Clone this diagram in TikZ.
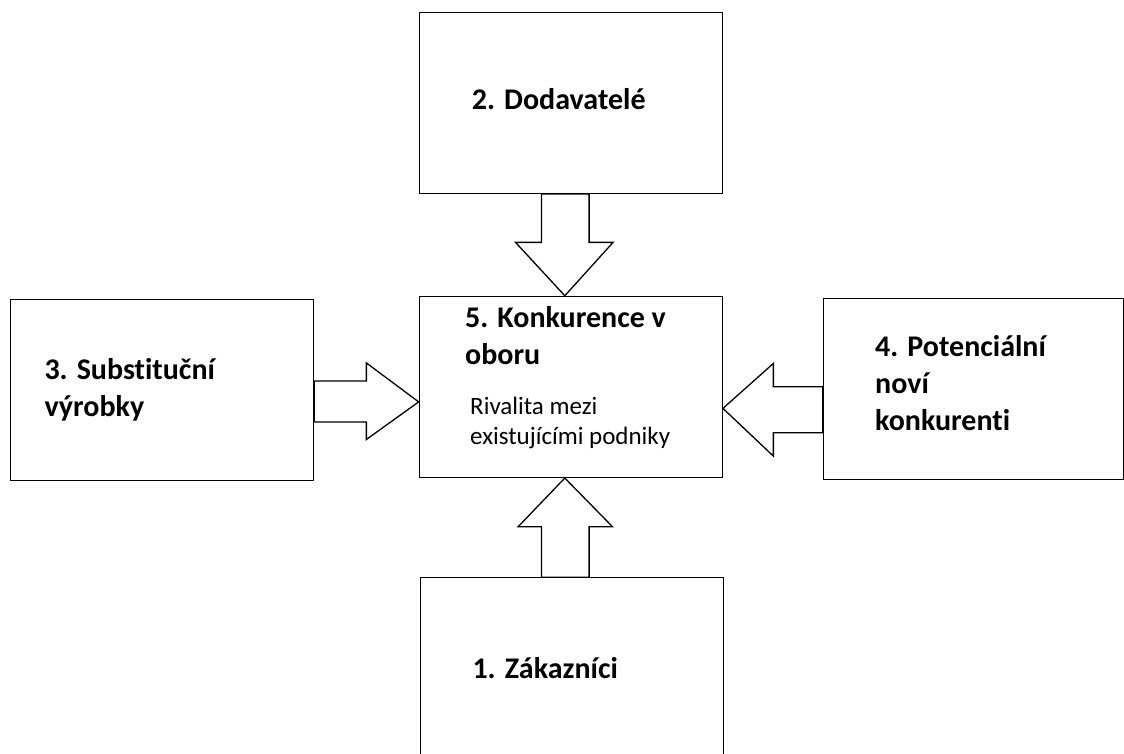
\documentclass[tikz,border=0pt]{standalone}
\usepackage{fontspec}
\setmainfont{Carlito}[Ligatures=NoCommon]
\usetikzlibrary{calc}

\tikzset{
  box/.style={draw, line width=1.3pt, minimum width=303pt, minimum height=181pt, inner sep=0pt},
  title/.style={font=\fontsize{30}{36.7}\selectfont\bfseries, align=left, inner sep=0pt, anchor=base west},
  sub/.style={font=\fontsize{25}{30}\selectfont, align=left, inner sep=0pt, anchor=base west},
  fat/.style={draw, line width=1.3pt, fill=white, line join=miter}
}

\begin{document}
\begin{tikzpicture}[x=1pt,y=-1pt]
\useasboundingbox (0,0) rectangle (1124,754);
\clip (0,0) rectangle (1124,754);
\node[box] (dod) at (570.7,102.9) {};
\node[box] (konk) at (570.8,386.9) {};
\node[box] (subst) at (162,390) {};
\node[box, minimum width=300pt] (poten) at (973.3,389.3) {};
\node[box] (zak) at (572.1,668.3) {};
% texts (base west = last line)
\node[title] (dodtxt) at (471.7,109.3) {2. Dodavatelé};
\node[title] (konktxt) at (465,364) {5. Konkurence v\\oboru};
\node[sub] (rivtxt) at (470,444) {Rivalita mezi\\existujícími podniky};
\node[title] (substtxt) at (44.3,416) {3. Substituční\\výrobky};
\node[title] (potentxt) at (875,430) {4. Potenciální\\noví\\konkurenti};
\node[title] (zaktxt) at (472.3,678.3) {1. Zákazníci};
\draw[fat] ([xshift=-6pt]konk.north) -- ++(-49.3,-53.4) -- ++(26,0) coordinate (a)
  -- (a |- dod.south) -- ++(47.6,0) coordinate (b) -- (b |- a) -- ++(24,0) -- cycle;
\draw[fat] ([yshift=-15pt]konk.west) -- ++(-52.3,-39) -- ++(0,18) coordinate (c)
  -- (c -| subst.east) -- ++(0,41) coordinate (d) -- (c |- d) -- ++(0,17.6) -- cycle;
\draw[fat] ([yshift=-21.5pt]konk.east) -- ++(50.4,-45) -- ++(0,23.4) coordinate (e)
  -- (e -| poten.west) -- ++(0,46) coordinate (f) -- (e |- f) -- ++(0,23.3) -- cycle;
\draw[fat] ([xshift=-6pt]konk.south) -- ++(-46.7,48.7) -- ++(23.4,0) coordinate (g)
  -- (g |- zak.north) -- ++(47.6,0) coordinate (h) -- (h |- g) -- ++(23.4,0) -- cycle;
\end{tikzpicture}
\end{document}
